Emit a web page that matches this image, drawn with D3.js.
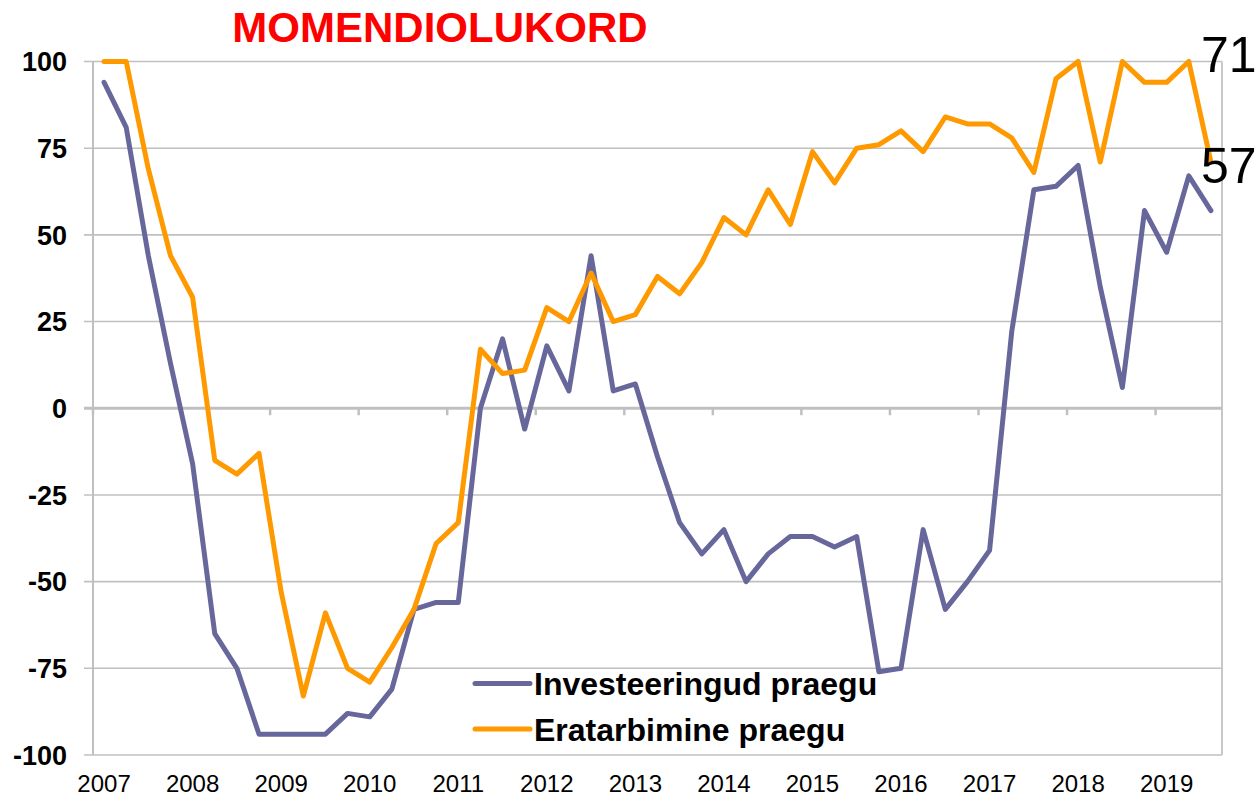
<!DOCTYPE html>
<html lang="en">
<head>
  <meta charset="UTF-8">
  <title>Momendiolukord</title>
</head>
<style>
    body {
      margin: 0;
      background: #fff;
    }

    text {
      font-family: "Liberation Sans", Arial, Helvetica, sans-serif;
    }

    .grid line {
      stroke: #c0c0c0;
      stroke-width: 1.6px;
    }

    .series {
      fill: none;
      stroke-width: 5px;
      stroke-linejoin: round;
      stroke-linecap: round;
    }
</style>
<body>

<div id="chart"></div>

<script src="https://d3js.org/d3.v7.min.js"></script>

<script>
/* global d3 */

// quarterly survey balance, 2007Q1 .. 2019Q3
var years = ["2007", "2008", "2009", "2010", "2011", "2012", "2013",
             "2014", "2015", "2016", "2017", "2018", "2019"];

var investments = [94, 81, 44, 13, -16, -65, -75, -94, -94, -94, -94, -88, -89,
                   -81, -58, -56, -56, 0, 20, -6, 18, 5, 44, 5, 7, -14, -33,
                   -42, -35, -50, -42, -37, -37, -40, -37, -76, -75, -35, -58,
                   -50, -41, 22, 63, 64, 70, 35, 6, 57, 45, 67, 57];

var consumption = [100, 100, 69, 44, 32, -15, -19, -13, -53, -83, -59, -75, -79,
                   -69, -58, -39, -33, 17, 10, 11, 29, 25, 39, 25, 27, 38, 33,
                   42, 55, 50, 63, 53, 74, 65, 75, 76, 80, 74, 84, 82, 82, 78,
                   68, 95, 100, 71, 100, 94, 94, 100, 71];

var seriesNames = ["Investeeringud praegu", "Eratarbimine praegu"];
var seriesColors = ["#67679b", "#ff9900"];
var yTicks = [100, 75, 50, 25, 0, -25, -50, -75, -100];

var quarters = [];
years.forEach(function(y) {
  ["Q1", "Q2", "Q3", "Q4"].forEach(function(q) {
    quarters.push(y + q);
  });
});
quarters = quarters.slice(0, investments.length);

var width = 1257;
var height = 797;
var plot = { left: 93, right: 1222, top: 61.5, bottom: 755 };

var svg = d3.select("#chart")
    .append("svg")
    .attr("width", width)
    .attr("height", height);

var x = d3.scaleBand()
    .domain(quarters)
    .range([plot.left, plot.right]);

var y = d3.scaleLinear()
    .domain([-100, 100])
    .range([plot.bottom, plot.top]);

function cx(q) {
  return x(q) + x.bandwidth() / 2;
}

// horizontal gridlines
svg.append("g")
    .attr("class", "grid")
    .selectAll("line")
    .data(yTicks)
    .enter()
    .append("line")
    .attr("x1", plot.left - 9)
    .attr("x2", plot.right)
    .attr("y1", function(d) { return y(d); })
    .attr("y2", function(d) { return y(d); });

// left axis and right border
svg.append("line")
    .attr("x1", plot.left).attr("x2", plot.left)
    .attr("y1", plot.top).attr("y2", plot.bottom)
    .style("stroke", "#c0c0c0").style("stroke-width", 2);
svg.append("line")
    .attr("x1", plot.right).attr("x2", plot.right)
    .attr("y1", plot.top).attr("y2", plot.bottom)
    .style("stroke", "#c8c8c8").style("stroke-width", 2);

// y labels
svg.append("g")
    .selectAll("text")
    .data(yTicks)
    .enter()
    .append("text")
    .attr("x", 67)
    .attr("y", function(d) { return y(d); })
    .attr("dy", "0.36em")
    .attr("text-anchor", "end")
    .style("font-size", "27px")
    .style("font-weight", "bold")
    .text(function(d) { return d; });

// zero axis with year ticks
var yearStarts = quarters.filter(function(q) { return q.slice(4) === "Q1"; });

svg.append("line")
    .attr("x1", plot.left - 9)
    .attr("x2", plot.right)
    .attr("y1", y(0))
    .attr("y2", y(0))
    .style("stroke", "#c0c0c0")
    .style("stroke-width", 3);

svg.append("g")
    .selectAll("line")
    .data(yearStarts)
    .enter()
    .append("line")
    .attr("x1", function(d) { return x(d); })
    .attr("x2", function(d) { return x(d); })
    .attr("y1", y(0))
    .attr("y2", y(0) + 7)
    .style("stroke", "#c0c0c0")
    .style("stroke-width", 2.5);

svg.append("g")
    .selectAll("text")
    .data(yearStarts)
    .enter()
    .append("text")
    .attr("x", function(d) { return cx(d); })
    .attr("y", 792)
    .attr("text-anchor", "middle")
    .style("font-size", "24px")
    .text(function(d) { return d.slice(0, 4); });

// series lines
var line = d3.line()
    .x(function(d, i) { return cx(quarters[i]); })
    .y(function(d) { return y(d); });

[investments, consumption].forEach(function(values, k) {
  svg.append("path")
      .datum(values)
      .attr("class", "series")
      .attr("d", line)
      .style("stroke", seriesColors[k]);
});

// end labels
var last = quarters[quarters.length - 1];
svg.append("text")
    .attr("x", cx(last) - 10)
    .attr("y", y(consumption[consumption.length - 1]) - 90)
    .style("font-size", "50px")
    .text(consumption[consumption.length - 1]);
svg.append("text")
    .attr("x", cx(last) - 10)
    .attr("y", y(investments[investments.length - 1]) - 28)
    .style("font-size", "50px")
    .text(investments[investments.length - 1]);

// title
svg.append("text")
    .attr("x", 440)
    .attr("y", 42)
    .attr("text-anchor", "middle")
    .style("font-size", "42px")
    .style("font-weight", "bold")
    .style("fill", "#ff0000")
    .text("MOMENDIOLUKORD");

// legend
var legend = svg.append("g")
    .selectAll("g")
    .data(seriesNames)
    .enter()
    .append("g")
    .attr("transform", function(d, i) { return "translate(475," + (683.5 + i * 45.5) + ")"; });

legend.append("line")
    .attr("x1", 0)
    .attr("x2", 55)
    .style("stroke", function(d, i) { return seriesColors[i]; })
    .style("stroke-width", 5)
    .style("stroke-linecap", "round");

legend.append("text")
    .attr("x", 59)
    .attr("dy", "0.36em")
    .style("font-size", "32px")
    .style("font-weight", "bold")
    .text(function(d) { return d; });
</script>

</body>
</html>
